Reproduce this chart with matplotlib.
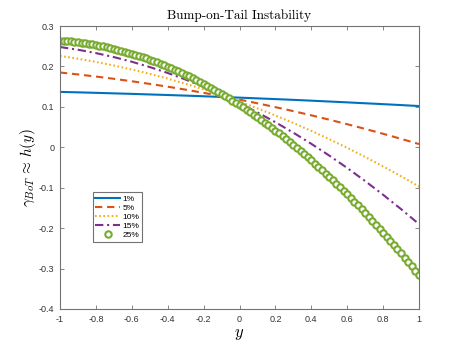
import numpy as np
import matplotlib
matplotlib.use("Agg")
import matplotlib.pyplot as plt

plt.rcParams['mathtext.fontset'] = 'cm'
plt.rcParams['axes.unicode_minus'] = False

# line series sampled at y = -1, -0.9, ..., 1
y_line = np.round(np.arange(-1.0, 1.0001, 0.1), 2)
h_1 = [0.1370, 0.1359, 0.1347, 0.1334, 0.1321, 0.1307, 0.1293, 0.1278, 0.1262, 0.1245,
       0.1228, 0.1210, 0.1192, 0.1173, 0.1153, 0.1132, 0.1111, 0.1089, 0.1067, 0.1044, 0.1020]
h_5 = [0.1850, 0.1802, 0.1750, 0.1694, 0.1633, 0.1568, 0.1499, 0.1425, 0.1347, 0.1265,
       0.1179, 0.1088, 0.0993, 0.0894, 0.0791, 0.0683, 0.0571, 0.0455, 0.0334, 0.0209, 0.0080]
h_10 = [0.2260, 0.2191, 0.2111, 0.2022, 0.1924, 0.1816, 0.1698, 0.1570, 0.1433, 0.1286,
        0.1129, 0.0963, 0.0787, 0.0601, 0.0406, 0.0201, -0.0014, -0.0239, -0.0473, -0.0717, -0.0970]
h_15 = [0.2480, 0.2413, 0.2330, 0.2231, 0.2116, 0.1985, 0.1838, 0.1675, 0.1496, 0.1301,
        0.1090, 0.0863, 0.0620, 0.0361, 0.0086, -0.0205, -0.0512, -0.0835, -0.1174, -0.1529, -0.1900]

# marker series sampled at y = -1, -0.98, ..., 1
y_mark = np.round(np.arange(-1.0, 1.0001, 0.02), 2)
h_25 = [0.2640, 0.2634, 0.2626, 0.2618, 0.2608, 0.2598, 0.2586, 0.2573, 0.2560, 0.2545,
        0.2529, 0.2512, 0.2494, 0.2476, 0.2456, 0.2435, 0.2413, 0.2389, 0.2365, 0.2340,
        0.2314, 0.2287, 0.2258, 0.2229, 0.2199, 0.2167, 0.2135, 0.2101, 0.2067, 0.2031,
        0.1995, 0.1957, 0.1918, 0.1878, 0.1838, 0.1796, 0.1753, 0.1709, 0.1664, 0.1618,
        0.1571, 0.1523, 0.1474, 0.1424, 0.1372, 0.1320, 0.1267, 0.1212, 0.1157, 0.1101,
        0.1043, 0.0985, 0.0925, 0.0864, 0.0803, 0.0740, 0.0676, 0.0612, 0.0546, 0.0479,
        0.0411, 0.0342, 0.0272, 0.0201, 0.0129, 0.0056, -0.0018, -0.0094, -0.0170, -0.0247,
        -0.0326, -0.0405, -0.0485, -0.0567, -0.0649, -0.0733, -0.0817, -0.0903, -0.0990, -0.1077,
        -0.1166, -0.1256, -0.1347, -0.1439, -0.1532, -0.1626, -0.1721, -0.1817, -0.1914, -0.2012,
        -0.2111, -0.2211, -0.2312, -0.2415, -0.2518, -0.2622, -0.2728, -0.2834, -0.2942, -0.3050,
        -0.3160]

labels = ['1%', '5%', '10%', '15%', '25%']
xticks = [-1, -0.8, -0.6, -0.4, -0.2, 0, 0.2, 0.4, 0.6, 0.8, 1]
xticklabels = ['-1', '-0.8', '-0.6', '-0.4', '-0.2', '0', '0.2', '0.4', '0.6', '0.8', '1']
yticks = [-0.4, -0.3, -0.2, -0.1, 0, 0.1, 0.2, 0.3]
yticklabels = ['-0.4', '-0.3', '-0.2', '-0.1', '0', '0.1', '0.2', '0.3']

c_blue = (0.0, 0.447, 0.741)
c_orange = (0.85, 0.325, 0.098)
c_yellow = (0.929, 0.694, 0.125)
c_purple = (0.494, 0.184, 0.556)
c_green = (0.466, 0.674, 0.188)

fig = plt.figure(figsize=(4.63, 3.48), dpi=100)
ax = fig.add_axes([60/463, 1-309/348, 359/463, 283/348])

ax.plot(y_line, h_1, color=c_blue, lw=1.5, label=labels[0])
ax.plot(y_line, h_5, color=c_orange, lw=1.5, ls=(0, (3.5, 2.3)), label=labels[1])
ax.plot(y_line, h_10, color=c_yellow, lw=1.5, ls=(0, (0.8, 1.2)), label=labels[2])
ax.plot(y_line, h_15, color=c_purple, lw=1.5, ls=(0, (4, 1.8, 1, 1.8)), label=labels[3])
ax.plot(y_mark, h_25, ls='none', marker='o', ms=4.6, mfc='white', mec=c_green, mew=1.5,
        label=labels[4])

ax.set_xlim(-1, 1)
ax.set_ylim(-0.4, 0.3)
ax.set_xticks(xticks)
ax.set_xticklabels(xticklabels)
ax.set_yticks(yticks)
ax.set_yticklabels(yticklabels)

for lab in ax.get_xticklabels() + ax.get_yticklabels():
    lab.set_fontfamily('Liberation Sans')
    lab.set_fontsize(6.5)
    lab.set_color('0.2')

ax.tick_params(direction='in', length=3, width=0.6, color='0.45', top=True, right=True, pad=4)
for s in ax.spines.values():
    s.set_color('0.45')
    s.set_linewidth(0.8)

ax.set_title('Bump-on-Tail Instability', family='cmr10', fontsize=9.5, pad=5)
ax.set_xlabel(r'$y$', fontsize=12, labelpad=0)
ax.set_ylabel(r'$\gamma_{BoT}\,\approx\,h(y)$', fontsize=11, labelpad=1)

leg = ax.legend(loc='lower left', bbox_to_anchor=(0.091, 0.238), borderaxespad=0,
                prop={'family': 'Liberation Sans', 'size': 6}, handlelength=3.0,
                handletextpad=0.3, labelspacing=0.15, borderpad=0.3, fancybox=False,
                numpoints=1, framealpha=1)
leg.get_frame().set_edgecolor('0.45')
leg.get_frame().set_linewidth(0.8)

fig.savefig('out.png', dpi=100)
